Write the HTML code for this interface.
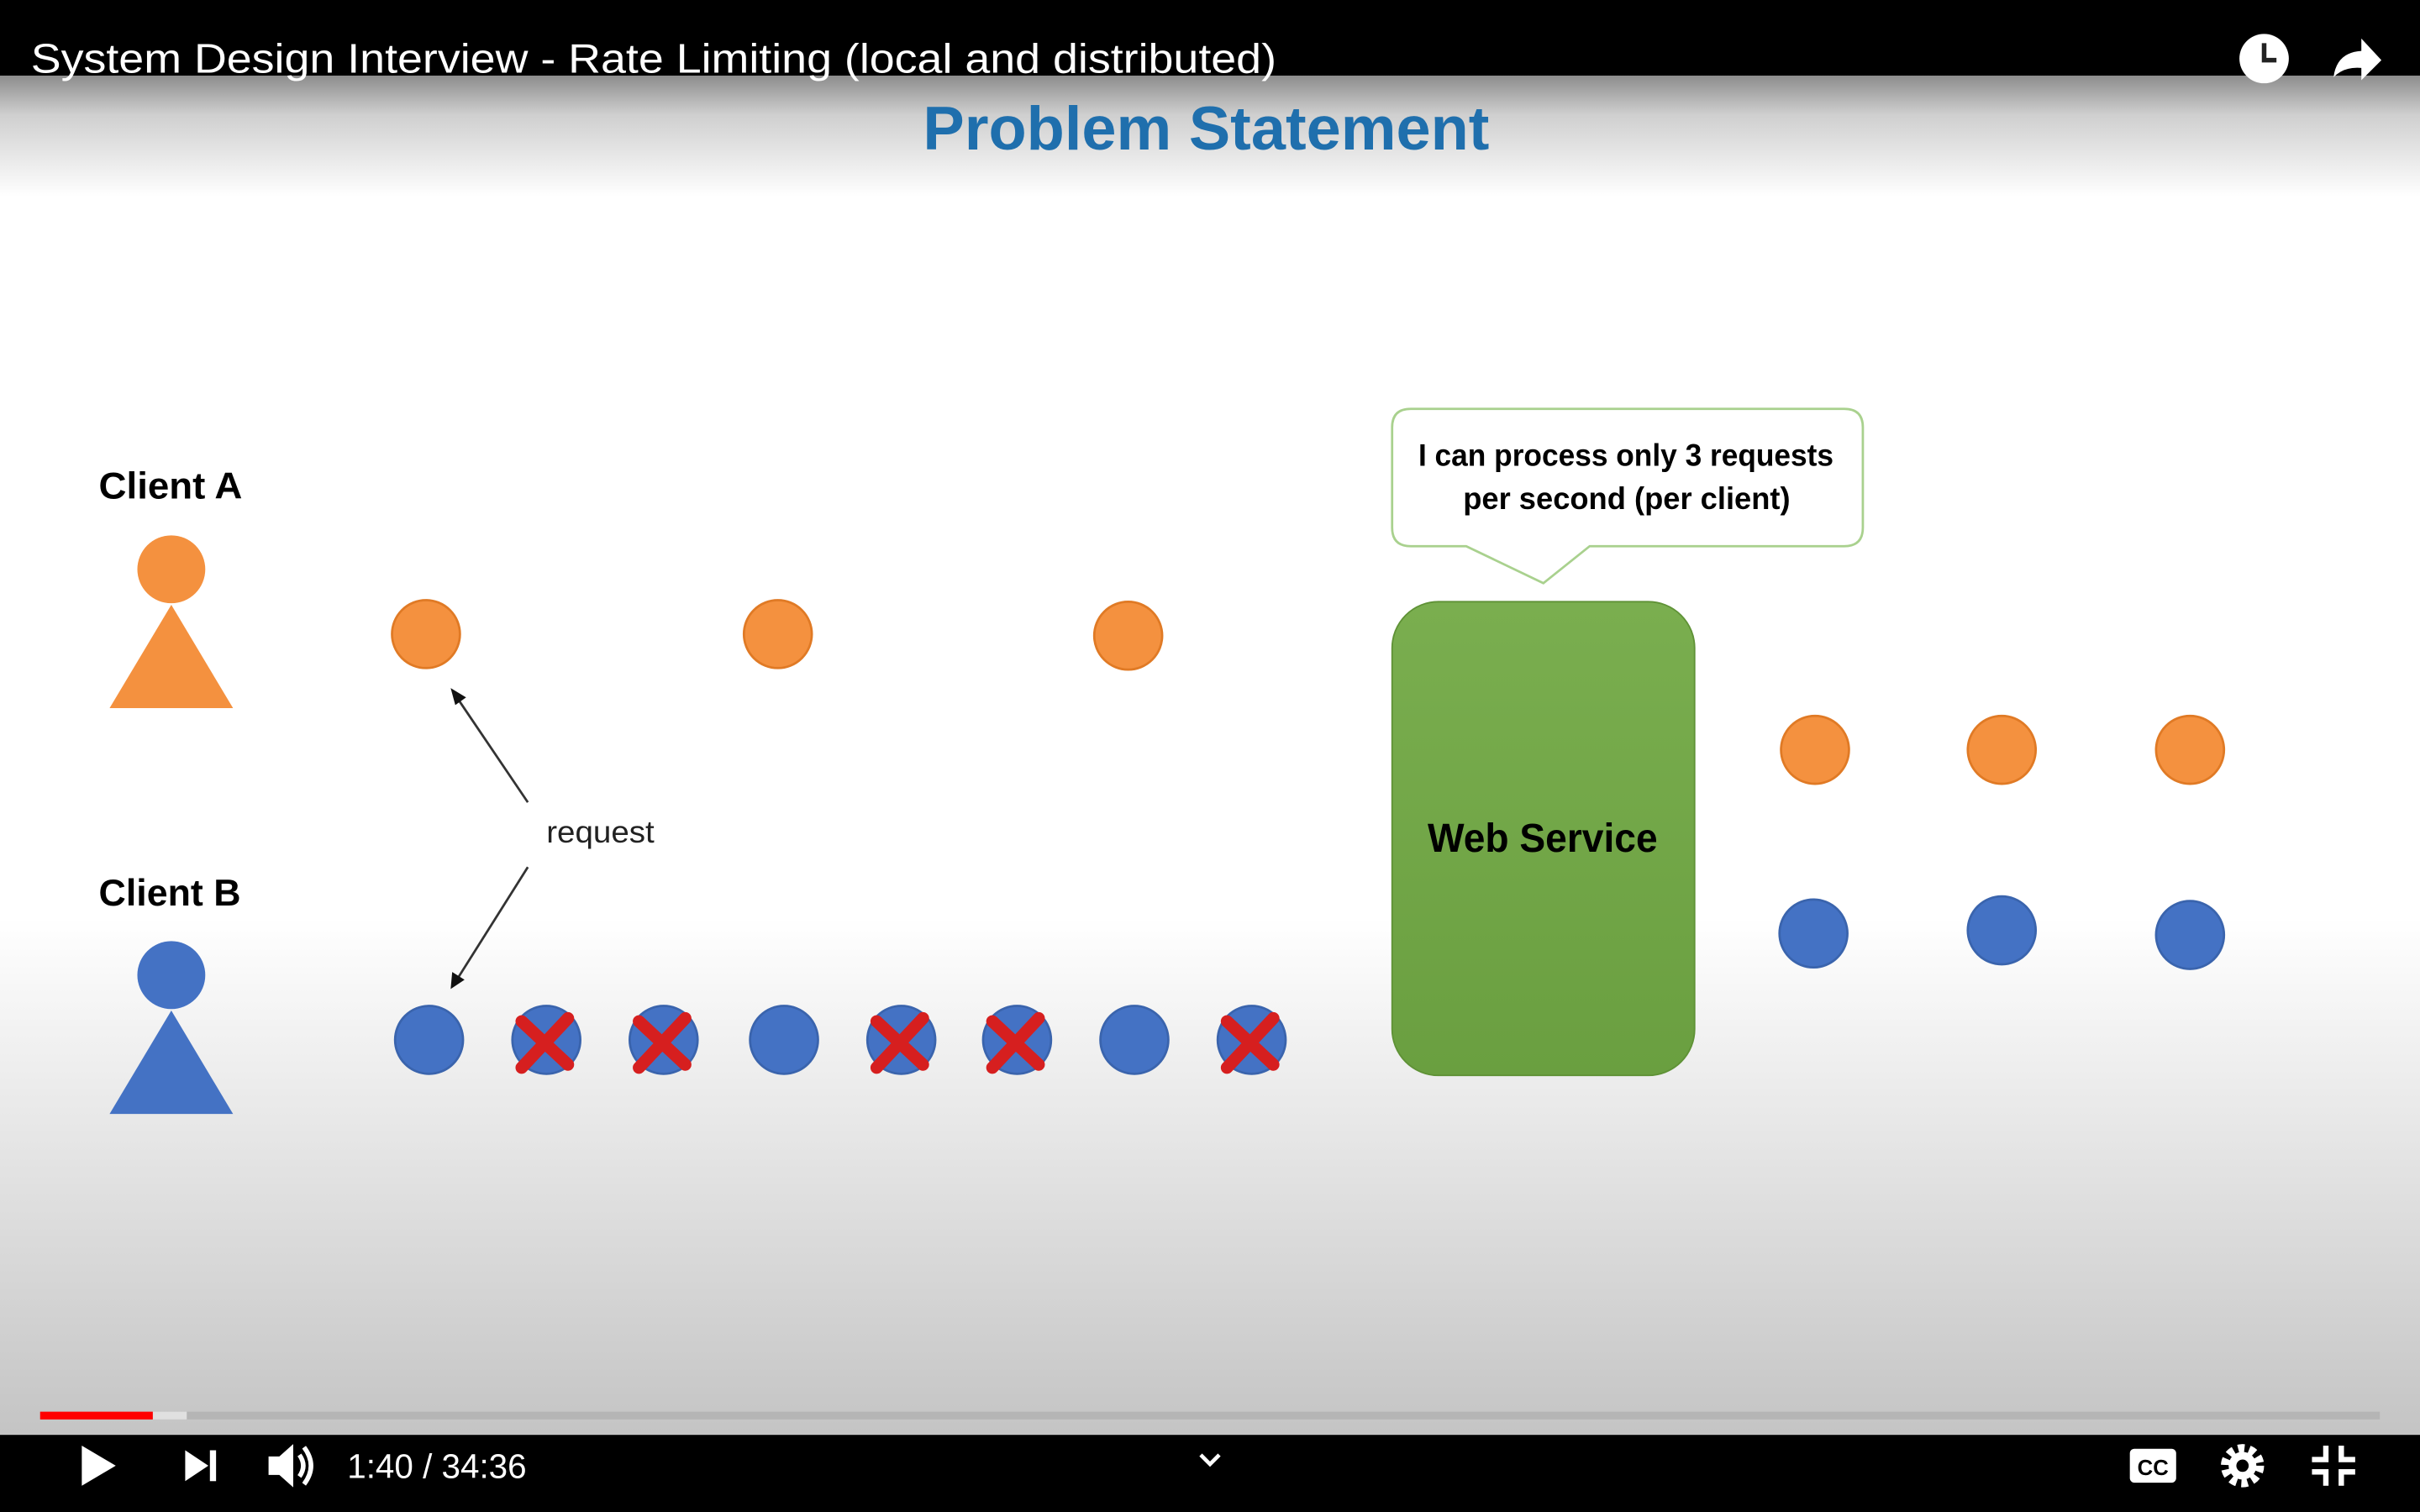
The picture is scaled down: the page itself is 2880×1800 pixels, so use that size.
<!DOCTYPE html>
<html><head><meta charset="utf-8"><style>
html,body{margin:0;padding:0;width:2880px;height:1800px;overflow:hidden;background:#fff}
svg{display:block}
text{font-family:"Liberation Sans",sans-serif}
</style></head><body>
<svg width="2880" height="1800" viewBox="0 0 1568 980" preserveAspectRatio="none" xmlns="http://www.w3.org/2000/svg">
<defs>
<linearGradient id="bg" x1="0" y1="0" x2="0" y2="1">
<stop offset="0" stop-color="#8a8a8a"/>
<stop offset="0.03" stop-color="#cfcfcf"/>
<stop offset="0.09" stop-color="#ffffff"/>
<stop offset="0.62" stop-color="#ffffff"/>
<stop offset="1" stop-color="#c4c4c4"/>
</linearGradient>
<linearGradient id="gr" x1="0" y1="0" x2="0" y2="1">
<stop offset="0" stop-color="#7aae4f"/>
<stop offset="1" stop-color="#6a9f40"/>
</linearGradient>
</defs>
<rect x="0" y="48" width="1568" height="882" fill="url(#bg)"/>
<rect x="0" y="0" width="1568" height="49" fill="#000"/>
<text x="20" y="47" font-size="27" fill="#fff" textLength="807" lengthAdjust="spacingAndGlyphs">System Design Interview - Rate Limiting (local and distributed)</text>
<circle cx="1467" cy="38" r="16" fill="#fff"/>
<path d="M1467 28 V39 H1475" stroke="#222" stroke-width="3" fill="none"/>
<path d="M1512 50 Q1514 34 1530 33 V25 L1543 39 L1530 52 V44 Q1519 43 1512 50Z" fill="#fff"/>

<text x="598" y="97" font-size="40" font-weight="bold" fill="#1f6fad" textLength="367" lengthAdjust="spacingAndGlyphs">Problem Statement</text>

<text x="64" y="323" font-size="24" font-weight="bold" fill="#000" textLength="93" lengthAdjust="spacingAndGlyphs">Client A</text>
<circle cx="111" cy="369" r="22" fill="#f4913f"/>
<polygon points="111,392 71,459 151,459" fill="#f4913f"/>
<text x="64" y="587" font-size="24" font-weight="bold" fill="#000" textLength="92" lengthAdjust="spacingAndGlyphs">Client B</text>
<circle cx="111" cy="632" r="22" fill="#4472c4"/>
<polygon points="111,655 71,722 151,722" fill="#4472c4"/>

<g fill="#f4913f" stroke="#e07a25" stroke-width="1.5">
<circle cx="276" cy="411" r="22"/><circle cx="504" cy="411" r="22"/><circle cx="731" cy="412" r="22"/>
<circle cx="1176" cy="486" r="22"/><circle cx="1297" cy="486" r="22"/><circle cx="1419" cy="486" r="22"/>
</g>
<g fill="#4472c4" stroke="#3a64ad" stroke-width="1.5">
<circle cx="278" cy="674" r="22"/><circle cx="354" cy="674" r="22"/><circle cx="430" cy="674" r="22"/><circle cx="508" cy="674" r="22"/>
<circle cx="584" cy="674" r="22"/><circle cx="659" cy="674" r="22"/><circle cx="735" cy="674" r="22"/><circle cx="811" cy="674" r="22"/>
<circle cx="1175" cy="605" r="22"/><circle cx="1297" cy="603" r="22"/><circle cx="1419" cy="606" r="22"/>
</g>
<g stroke="#d61f1f" stroke-width="8" stroke-linecap="round">
<path d="M338 662 L368 690 M368 660 L338 692"/>
<path d="M414 662 L444 690 M444 660 L414 692"/>
<path d="M568 662 L598 690 M598 660 L568 692"/>
<path d="M643 662 L673 690 M673 660 L643 692"/>
<path d="M795 662 L825 690 M825 660 L795 692"/>
</g>

<text x="354" y="546" font-size="20" fill="#222" textLength="70" lengthAdjust="spacingAndGlyphs">request</text>
<g stroke="#333" stroke-width="1.5" fill="#111">
<line x1="342" y1="520" x2="296" y2="452"/>
<polygon points="292,446 302,452 295,457" stroke="none"/>
<line x1="342" y1="562" x2="296" y2="635"/>
<polygon points="292,641 293,630 301,635" stroke="none"/>
</g>

<path d="M914 265 H1195 Q1207 265 1207 277 V342 Q1207 354 1195 354 H1030 L1000 378 L950 354 H914 Q902 354 902 342 V277 Q902 265 914 265Z" fill="#fff" stroke="#a9d18e" stroke-width="1.5"/>
<text x="919" y="302" font-size="20" font-weight="bold" fill="#000" textLength="269" lengthAdjust="spacingAndGlyphs">I can process only 3 requests</text>
<text x="948" y="330" font-size="20" font-weight="bold" fill="#000" textLength="212" lengthAdjust="spacingAndGlyphs">per second (per client)</text>

<rect x="902" y="390" width="196" height="307" rx="30" fill="url(#gr)" stroke="#5f9236" stroke-width="1"/>
<text x="925" y="552" font-size="26" font-weight="bold" fill="#000" textLength="149" lengthAdjust="spacingAndGlyphs">Web Service</text>

<rect x="26" y="915" width="1516" height="5" fill="#b5b5b5"/>
<rect x="99" y="915" width="22" height="5" fill="#e0e0e0"/>
<rect x="26" y="915" width="73" height="5" fill="#f00"/>
<rect x="0" y="930" width="1568" height="50" fill="#000"/>
<polygon points="53,937 53,963 75,950" fill="#fff"/>
<polygon points="120,940 120,960 135,950" fill="#fff"/><rect x="136" y="940" width="4" height="20" fill="#fff"/>
<polygon points="174,944 181,944 190,936 190,964 181,956 174,956" fill="#fff"/>
<path d="M194 943 Q199 950 194 957 M197 938 Q206 950 197 962" stroke="#fff" stroke-width="3" fill="none"/>
<text x="225" y="958" font-size="22" fill="#fff">1:40 / 34:36</text>
<path d="M778 943 L784 949 L790 943" stroke="#fff" stroke-width="2.5" fill="none"/>
<rect x="1380" y="939" width="30" height="22" rx="3" fill="#fff"/>
<text x="1395" y="956" font-size="14" font-weight="bold" fill="#000" text-anchor="middle">CC</text>
<circle cx="1453" cy="950" r="11" fill="none" stroke="#fff" stroke-width="6" stroke-dasharray="4 3"/>
<circle cx="1453" cy="950" r="9" fill="#fff"/><circle cx="1453" cy="950" r="4" fill="#000"/>
<path d="M1507 937 V946 H1498 M1517 937 V946 H1526 M1507 963 V954 H1498 M1517 963 V954 H1526" stroke="#fff" stroke-width="3.5" fill="none"/>
</svg>
</body></html>
